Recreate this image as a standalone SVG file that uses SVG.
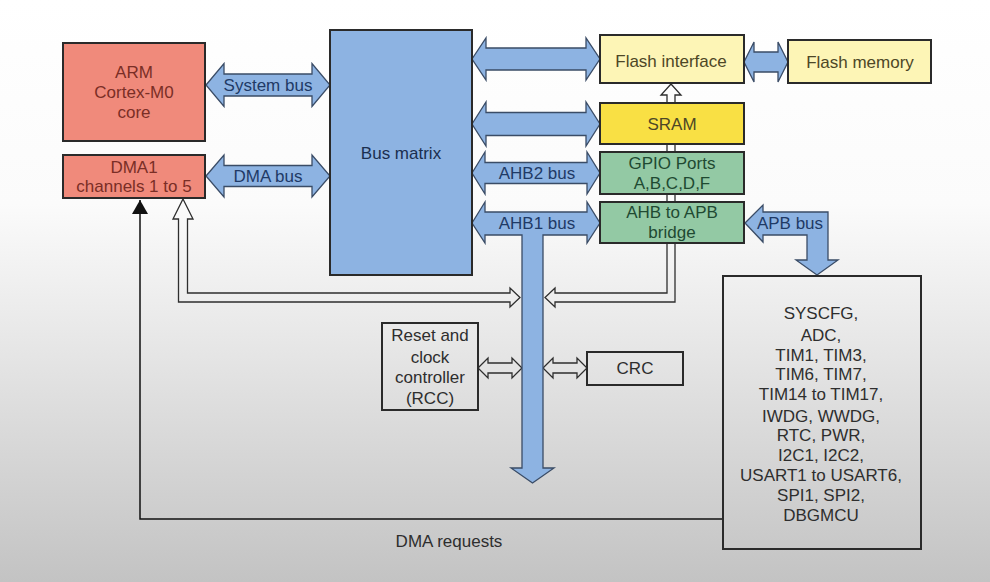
<svg xmlns="http://www.w3.org/2000/svg" width="990" height="582" viewBox="0 0 990 582">
<defs>
<linearGradient id="bg" x1="0" y1="0" x2="0" y2="1">
<stop offset="0" stop-color="#ffffff"/>
<stop offset="0.35" stop-color="#fbfbfb"/>
<stop offset="0.6" stop-color="#e6e6e6"/>
<stop offset="1" stop-color="#c3c3c3"/>
</linearGradient>
<marker id="blk" viewBox="0 0 14 16" refX="14" refY="8" markerWidth="14" markerHeight="16" markerUnits="userSpaceOnUse" orient="auto">
<path d="M0,0 L14,8 L0,16 Z" fill="#111"/>
</marker>
<style>
text{font-family:"Liberation Sans",Arial,sans-serif;font-size:17px;text-anchor:middle}
.box{stroke:#2a2a2a;stroke-width:2}
.red{fill:#f08a7b}
.redt{fill:#7a2e26}
.blue{fill:#8db3e2;stroke:#3a4c66;stroke-width:1.3}
.bluet{fill:#1f3a66}
.lyel{fill:#fdf5b6}
.yel{fill:#f9e044}
.yelt{fill:#4d4726}
.grn{fill:#93c9a4}
.grnt{fill:#1f4a32}
.plain{fill:none}
.gt{fill:#2e2e2e}
.hollow{fill:none;stroke:#2e2e2e;stroke-width:1.3;stroke-linejoin:miter}
</style>
</defs>
<rect x="0" y="0" width="990" height="582" fill="url(#bg)"/>

<g id="connectors">
<path class="hollow" d="M183,199 L193,219 L187.5,219 L187.5,293 L510,293 L510,288 L520,297.5 L510,307 L510,302 L178.5,302 L178.5,219 L173,219 Z"/>
<path class="hollow" d="M671,84 L681,95 L675,95 L675,302 L555,302 L555,307 L545,297.5 L555,288 L555,293 L667,293 L667,95 L661,95 Z"/>
<path class="hollow" d="M478,368 L488,358 L488,363 L512,363 L512,358 L522,368 L512,378 L512,373 L488,373 L488,378 Z"/>
<path class="hollow" d="M543,368 L553,358 L553,363 L577,363 L577,358 L587,368 L577,378 L577,373 L553,373 L553,378 Z"/>
<path class="blue" d="M206,85 L224,63.5 L224,74 L312,74 L312,63.5 L330,85 L312,106.5 L312,96 L224,96 L224,106.5 Z"/>
<path class="blue" d="M206,176 L224,155 L224,165.5 L312,165.5 L312,155 L330,176 L312,197 L312,186.5 L224,186.5 L224,197 Z"/>
<path class="blue" d="M472,59 L486,38 L486,48 L586,48 L586,38 L600,59 L586,80 L586,70 L486,70 L486,80 Z"/>
<path class="blue" d="M472,124 L486,102 L486,112.5 L586,112.5 L586,102 L600,124 L586,146 L586,135.5 L486,135.5 L486,146 Z"/>
<path class="blue" d="M472,173 L485,152 L485,162.5 L587,162.5 L587,152 L600,173 L587,194 L587,183.5 L485,183.5 L485,194 Z"/>
<path class="blue" d="M472,223 L485,202 L485,212 L587,212 L587,202 L600,223 L587,243 L587,235 L543,235 L543,468 L554,468 L532.5,483 L511,468 L522,468 L522,235 L485,235 L485,243 Z"/>
<path class="blue" d="M744,62 L754,42 L754,52 L778,52 L778,42 L788,62 L778,82 L778,72 L754,72 L754,82 Z"/>
<path class="blue" d="M745,223 L763,205 L763,212 L828,212 L828,260 L838,260 L817,275 L796,260 L807,260 L807,235 L763,235 L763,242 Z"/>
<polyline points="722,519 140,519 140,200" fill="none" stroke="#111" stroke-width="1.5" marker-end="url(#blk)"/>
<text class="bluet" x="268" y="91">System bus</text>
<text class="bluet" x="268" y="182">DMA bus</text>
<text class="bluet" x="537" y="179">AHB2 bus</text>
<text class="bluet" x="537" y="229">AHB1 bus</text>
<text class="bluet" x="790" y="229">APB bus</text>
<text class="gt" x="449" y="547">DMA requests</text>
</g>

<g id="arm">
<rect class="box red" x="63" y="43" width="142" height="98"/>
<text class="redt" x="134" y="78">ARM</text>
<text class="redt" x="134" y="98">Cortex-M0</text>
<text class="redt" x="134" y="118">core</text>
</g>
<g id="dma1">
<rect class="box red" x="63" y="155" width="142" height="43"/>
<text class="redt" x="134" y="173">DMA1</text>
<text class="redt" x="134" y="192">channels 1 to 5</text>
</g>
<g id="busmatrix">
<rect x="330" y="30" width="142" height="245" fill="#8db3e2" stroke="#2a2a2a" stroke-width="2"/>
<text fill="#1b2f50" x="401" y="159">Bus matrix</text>
</g>
<g id="flashif">
<rect class="box lyel" x="600" y="35" width="144" height="48"/>
<text class="yelt" x="671" y="67">Flash interface</text>
</g>
<g id="flashmem">
<rect class="box lyel" x="788" y="40" width="143" height="43"/>
<text class="yelt" x="860" y="68">Flash memory</text>
</g>
<g id="sram">
<rect class="box yel" x="600" y="103" width="144" height="41"/>
<text class="yelt" x="672" y="130">SRAM</text>
</g>
<g id="gpio">
<rect class="box grn" x="600" y="152" width="144" height="42"/>
<text class="grnt" x="672" y="169">GPIO Ports</text>
<text class="grnt" x="672" y="189">A,B,C,D,F</text>
</g>
<g id="bridge">
<rect class="box grn" x="600" y="202" width="144" height="41"/>
<text class="grnt" x="672" y="218">AHB to APB</text>
<text class="grnt" x="672" y="238">bridge</text>
</g>
<g id="rcc">
<rect class="box plain" x="382" y="323" width="96" height="87"/>
<text class="gt" x="430" y="341">Reset and</text>
<text class="gt" x="430" y="363">clock</text>
<text class="gt" x="430" y="383">controller</text>
<text class="gt" x="430" y="404">(RCC)</text>
</g>
<g id="crc">
<rect class="box plain" x="587" y="352" width="96" height="33"/>
<text class="gt" x="635" y="374">CRC</text>
</g>
<g id="peripherals">
<rect class="box plain" x="723" y="276" width="198" height="273"/>
<text class="gt" x="821" y="319">SYSCFG,</text>
<text class="gt" x="821" y="341">ADC,</text>
<text class="gt" x="821" y="361">TIM1, TIM3,</text>
<text class="gt" x="821" y="380">TIM6, TIM7,</text>
<text class="gt" x="821" y="400">TIM14 to TIM17,</text>
<text class="gt" x="821" y="422">IWDG, WWDG,</text>
<text class="gt" x="821" y="441">RTC, PWR,</text>
<text class="gt" x="821" y="461">I2C1, I2C2,</text>
<text class="gt" x="821" y="481">USART1 to USART6,</text>
<text class="gt" x="821" y="501">SPI1, SPI2,</text>
<text class="gt" x="821" y="521">DBGMCU</text>
</g>
</svg>
